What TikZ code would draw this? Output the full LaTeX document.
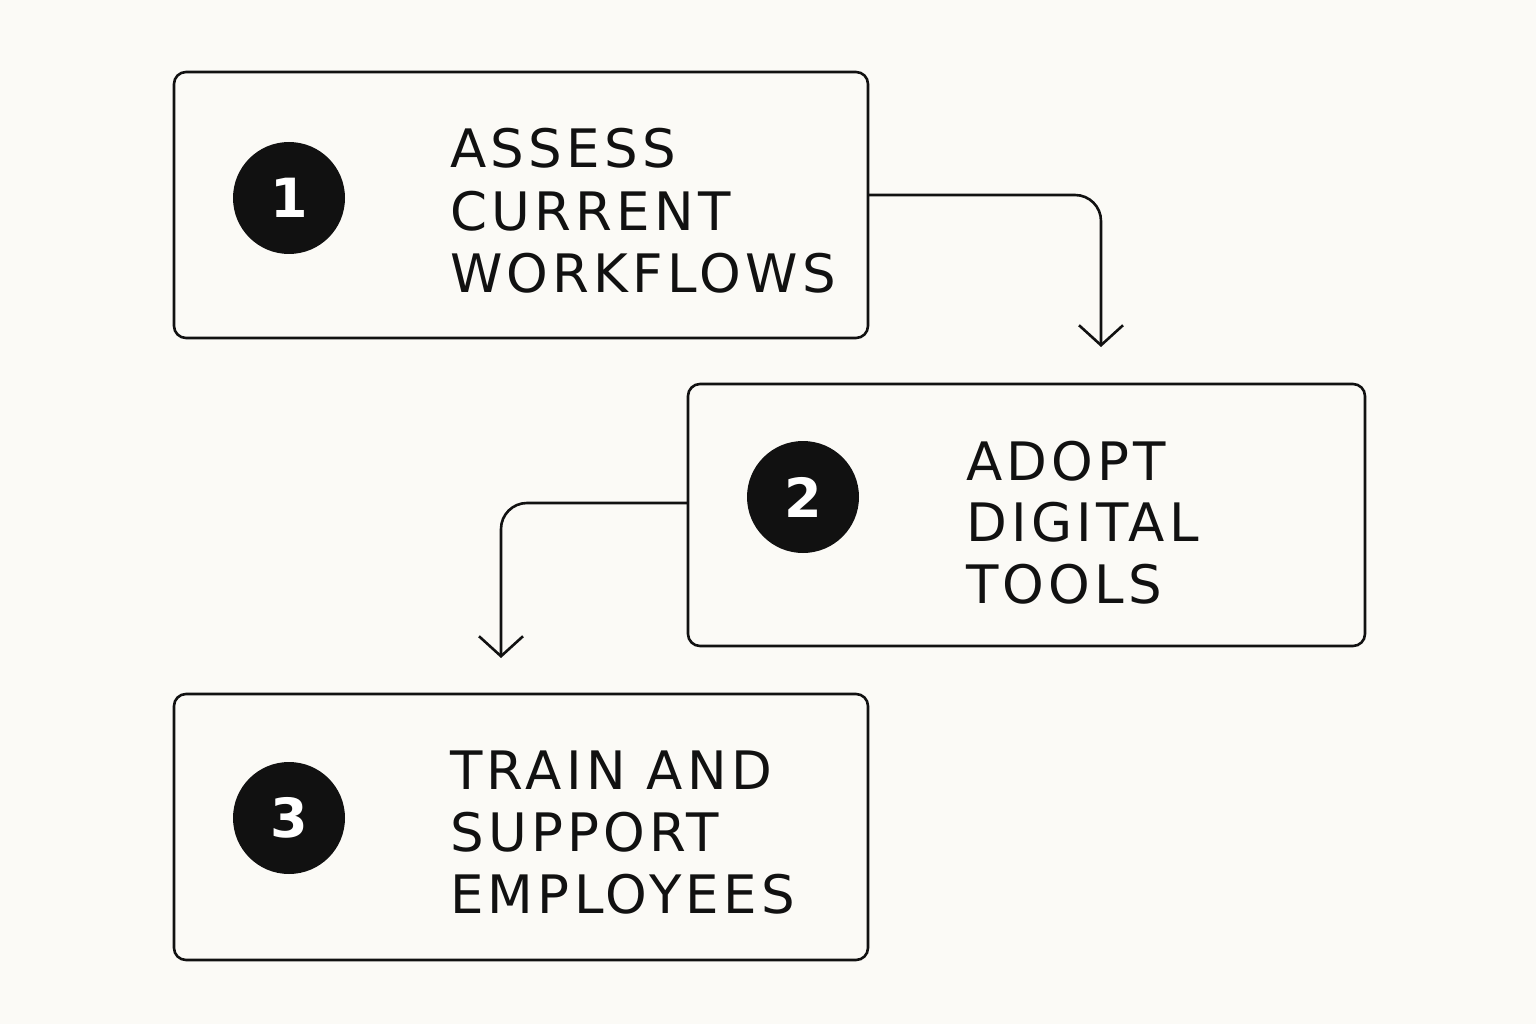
\documentclass[tikz,border=0pt]{standalone}
\usepackage{fontspec}
\setmainfont{Liberation Sans}
\newfontfamily\lblfont[LetterSpace=8]{DejaVu Sans}
\newfontfamily\numfont{DejaVu Sans}
\usetikzlibrary{arrows.meta}
\definecolor{bg}{HTML}{FBFAF6}
\definecolor{ink}{HTML}{111111}
\tikzset{
  x=1pt,y=-1pt,
  box/.style={draw=ink,line width=2.6pt,rounded corners=12pt},
  num/.style={circle,fill=ink,minimum size=112pt,inner sep=0pt,text=white,font=\numfont\fontsize{54}{54}\selectfont\bfseries},
  lbl/.style={anchor=base west,inner sep=0pt,text=ink,font=\lblfont\fontsize{53}{53}\selectfont},
  conn/.style={draw=ink,line width=2.6pt,rounded corners=26pt,-{Straight Barb[length=20pt,width=44pt,line width=2.6pt]}}
}
\begin{document}
\begin{tikzpicture}
\useasboundingbox[fill=bg] (0,0) rectangle (1536,1024);
\draw[box] (174,72) rectangle (868,338);
\draw[box] (688,384) rectangle (1365,646);
\draw[box] (174,694) rectangle (868,960);
\node[num] (n1) at (289,198) {1};
\node[num] (n2) at (803,497) {2};
\node[num] (n3) at (289,818) {3};
\node[lbl] (a1) at (450,168) {ASSESS};
\node[lbl] (a2) at (450,231) {CURRENT};
\node[lbl] (a3) at (450,293) {WORKFLOWS};
\node[lbl] (b1) at (966,480) {ADOPT};
\node[lbl] (b2) at (966,541) {DIGITAL};
\node[lbl] (b3) at (966,603) {TOOLS};
\node[lbl] (c1) at (450,789) {TRAIN AND};
\node[lbl] (c2) at (450,851) {SUPPORT};
\node[lbl] (c3) at (450,913) {EMPLOYEES};
\coordinate (s1) at (868,195);
\coordinate (e1) at (1101,347);
\coordinate (s2) at (688,503);
\coordinate (e2) at (501,658);
\draw[conn] (s1) -| (e1);
\draw[conn] (s2) -| (e2);
\end{tikzpicture}
\end{document}
